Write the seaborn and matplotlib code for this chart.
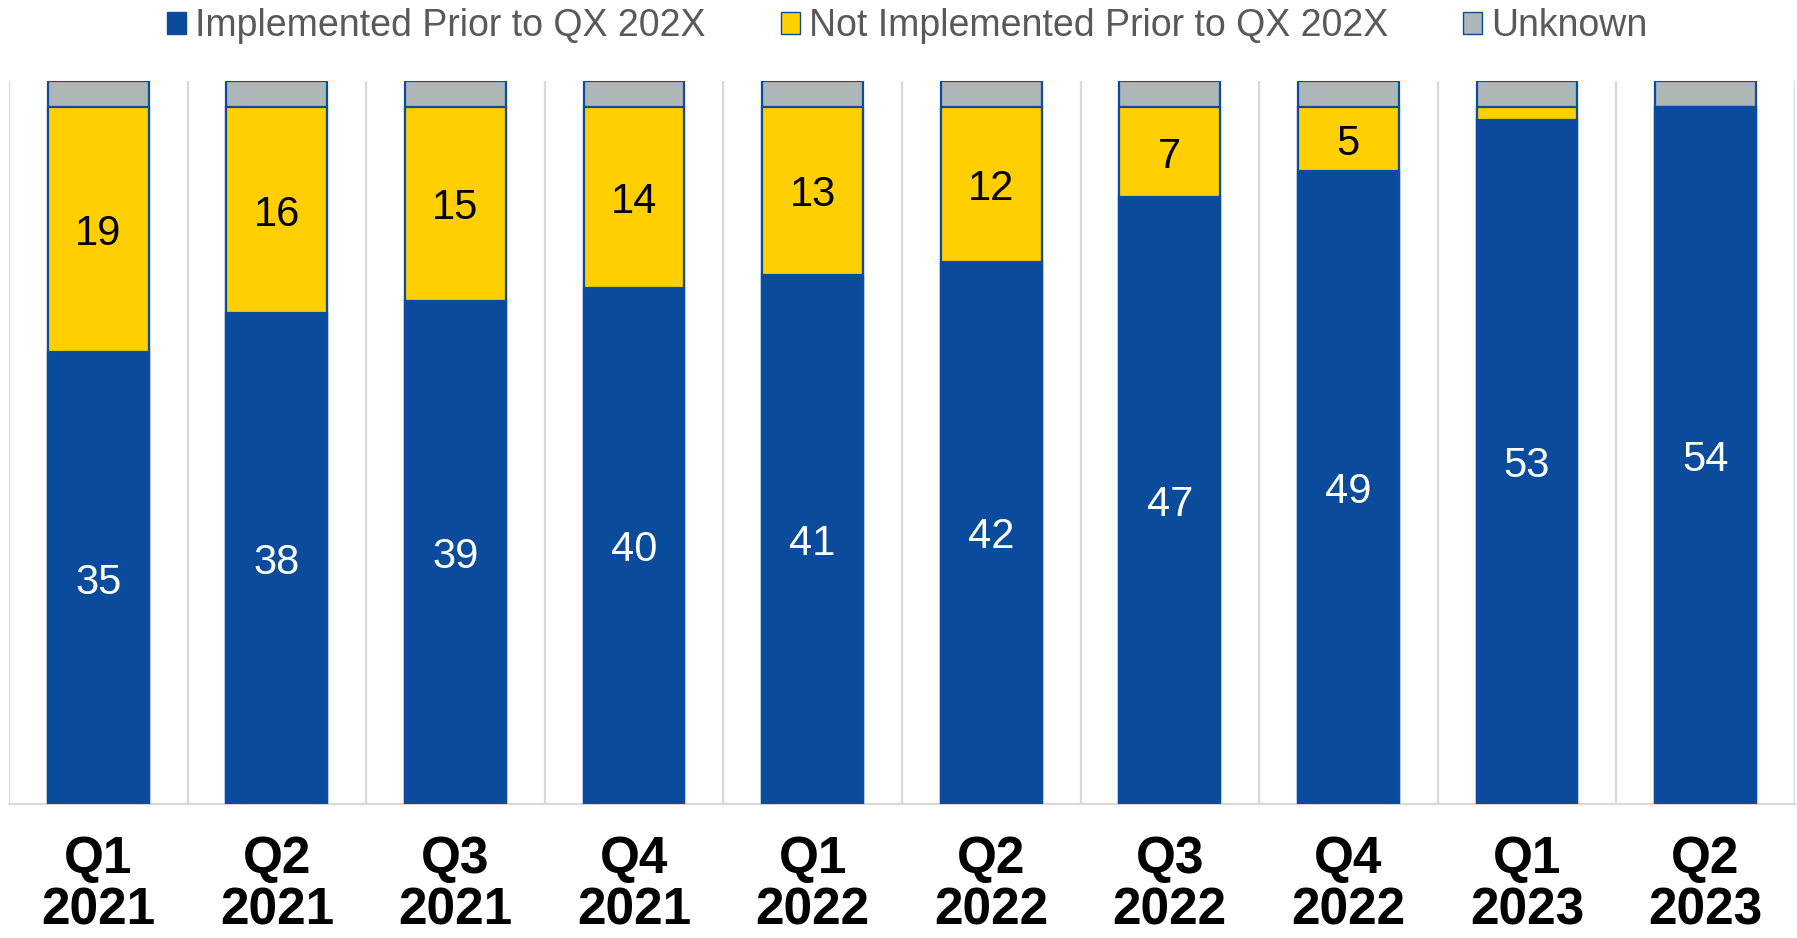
import matplotlib

matplotlib.use("Agg")
import matplotlib.pyplot as plt
import numpy as np
import pandas as pd
import seaborn as sns
from matplotlib.patches import Patch

quarters = ["Q1\n2021", "Q2\n2021", "Q3\n2021", "Q4\n2021", "Q1\n2022",
            "Q2\n2022", "Q3\n2022", "Q4\n2022", "Q1\n2023", "Q2\n2023"]
implemented = [35, 38, 39, 40, 41, 42, 47, 49, 53, 54]
not_implemented = [19, 16, 15, 14, 13, 12, 7, 5, 1, 0]
unknown = [2, 2, 2, 2, 2, 2, 2, 2, 2, 2]

series_names = ["Implemented Prior to QX 202X", "Not Implemented Prior to QX 202X", "Unknown"]
BLUE = "#0A4B9B"
YELLOW = "#FFCF01"
GREY = "#ADB7B7"
EDGE = "#0B4C9C"
GRID = "#D9D9D9"

df = pd.DataFrame({
    "quarter": quarters,
    "implemented": implemented,
    "not_implemented": not_implemented,
    "unknown": unknown,
})
df["top_yellow"] = df["implemented"] + df["not_implemented"]
df["top_total"] = df["top_yellow"] + df["unknown"]

sns.set_style("white")
plt.rcParams["font.family"] = ["Liberation Sans", "DejaVu Sans"]

fig = plt.figure(figsize=(17.97, 9.38), dpi=100)
ax = fig.add_axes([0.005, 0.1429, 0.9938, 0.7707])

# layered cumulative bars: total, then blue+yellow, then blue
width = 0.565
sns.barplot(data=df, x="quarter", y="top_total", color=GREY, width=width,
            edgecolor=EDGE, linewidth=1.6, saturation=1, ax=ax, zorder=2)
sns.barplot(data=df, x="quarter", y="top_yellow", color=YELLOW, width=width,
            edgecolor=EDGE, linewidth=1.6, saturation=1, ax=ax, zorder=3)
sns.barplot(data=df, x="quarter", y="implemented", color=BLUE, width=width,
            edgecolor=EDGE, linewidth=1.6, saturation=1, ax=ax, zorder=4)

# data labels
for i, row in df.iterrows():
    ax.text(i, row["implemented"] / 2, f"{row['implemented']}", ha="center", va="center_baseline",
            color="white", fontsize=30, zorder=5)
    if row["not_implemented"] >= 3:
        ax.text(i, row["implemented"] + row["not_implemented"] / 2, f"{row['not_implemented']}",
                ha="center", va="center_baseline", color="black", fontsize=30, zorder=5)

n = len(quarters)
ax.set_xlim(-0.5, n - 0.5)
ax.set_ylim(0, df["top_total"].max())
for x in np.arange(-0.5, n, 1.0):
    ax.axvline(x, color=GRID, lw=1.6, zorder=1)

for side in ["top", "right", "left"]:
    ax.spines[side].set_visible(False)
ax.spines["bottom"].set_color(GRID)
ax.spines["bottom"].set_linewidth(1.6)

ax.set_yticks([])
ax.set_xlabel("")
ax.set_ylabel("")
ax.tick_params(axis="x", length=0, pad=22)
ax.set_xticks(range(n))
ax.set_xticklabels(quarters, fontsize=37, fontweight="bold", color="black", linespacing=1.08)

handles = [
    Patch(facecolor=BLUE, edgecolor=EDGE, label=series_names[0]),
    Patch(facecolor=YELLOW, edgecolor=EDGE, label=series_names[1]),
    Patch(facecolor=GREY, edgecolor=EDGE, label=series_names[2]),
]
leg = fig.legend(handles=handles, loc="upper center", bbox_to_anchor=(0.505, 1.027), ncol=3,
                 frameon=False, fontsize=27, handlelength=0.5, handleheight=0.5,
                 handletextpad=0.25, columnspacing=2.0)
for t in leg.get_texts():
    t.set_color("#595959")

fig.savefig("out.png", dpi=100)
